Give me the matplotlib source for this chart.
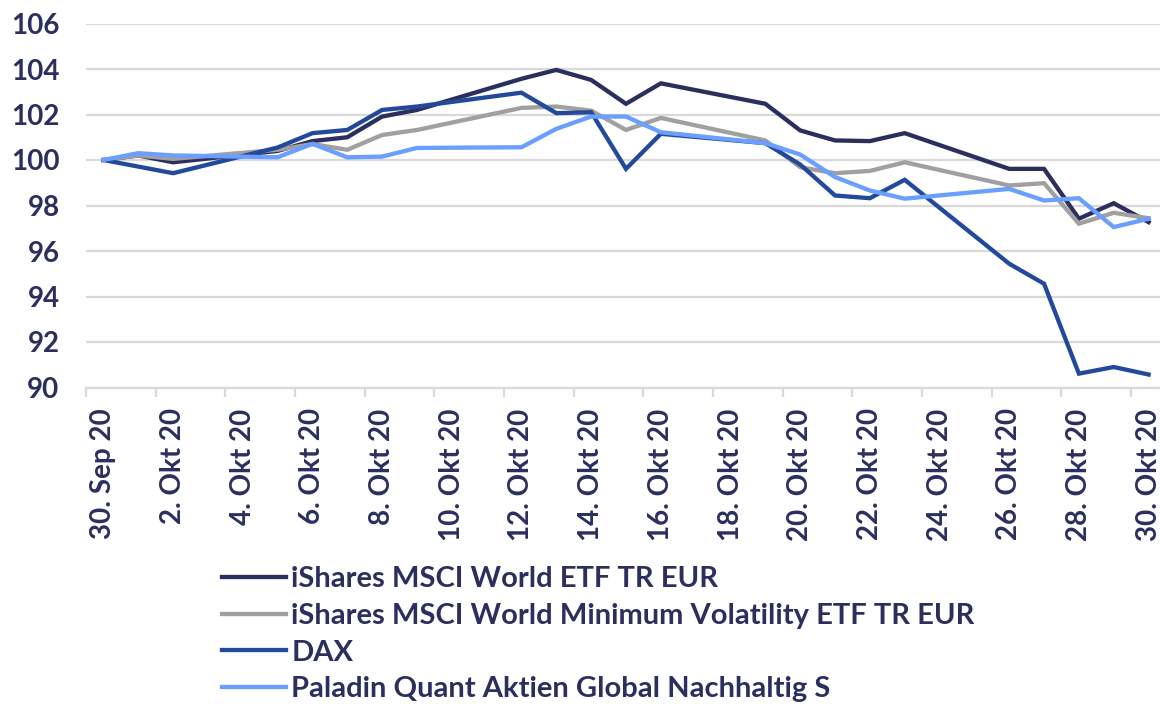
import numpy as np
import pandas as pd
import matplotlib
matplotlib.use("Agg")
import matplotlib.pyplot as plt
import matplotlib.dates as mdates

# Handelstage Oktober 2020 (Index 30.09.2020 = 100)
dates = pd.to_datetime([
    "2020-09-30", "2020-10-01", "2020-10-02", "2020-10-05", "2020-10-06",
    "2020-10-07", "2020-10-08", "2020-10-09", "2020-10-12", "2020-10-13",
    "2020-10-14", "2020-10-15", "2020-10-16", "2020-10-19", "2020-10-20",
    "2020-10-21", "2020-10-22", "2020-10-23", "2020-10-26", "2020-10-27",
    "2020-10-28", "2020-10-29", "2020-10-30"])

world = [100, 100.2, 99.9, 100.4, 100.83, 101.0, 101.91, 102.2, 103.57, 103.96,
         103.52, 102.47, 103.37, 102.47, 101.3, 100.86, 100.83, 101.18, 99.61,
         99.61, 97.42, 98.1, 97.27]
minvol = [100, 100.2, 100.05, 100.45, 100.7, 100.45, 101.1, 101.32, 102.29, 102.35,
          102.17, 101.32, 101.85, 100.86, 99.68, 99.42, 99.52, 99.9, 98.88,
          98.98, 97.2, 97.68, 97.44]
dax = [100, 99.71, 99.42, 100.55, 101.18, 101.32, 102.2, 102.35, 102.96, 102.06,
       102.1, 99.61, 101.15, 100.74, 99.8, 98.44, 98.32, 99.13, 95.44,
       94.56, 90.61, 90.9, 90.57]
paladin = [100, 100.3, 100.2, 100.12, 100.71, 100.12, 100.15, 100.53, 100.56, 101.37,
           101.91, 101.91, 101.22, 100.74, 100.24, 99.25, 98.66, 98.3, 98.73,
           98.22, 98.32, 97.05, 97.42]

labels = ["iShares MSCI World ETF TR EUR",
          "iShares MSCI World Minimum Volatility ETF TR EUR",
          "DAX",
          "Paladin Quant Aktien Global Nachhaltig S"]
colors = ["#2B2F5E", "#A0A0A0", "#234A9A", "#6A9EFF"]

# Achsenbeschriftung alle 2 Tage
tick_dates = pd.date_range("2020-09-30", "2020-10-30", freq="2D")
tick_labels = ["30. Sep 20", "2. Okt 20", "4. Okt 20", "6. Okt 20", "8. Okt 20",
               "10. Okt 20", "12. Okt 20", "14. Okt 20", "16. Okt 20", "18. Okt 20",
               "20. Okt 20", "22. Okt 20", "24. Okt 20", "26. Okt 20", "28. Okt 20",
               "30. Okt 20"]

text_col = "#2B2F5E"
grid_col = "#D9D9D9"
plt.rcParams['font.family'] = ['Lato', 'DejaVu Sans']
plt.rcParams['font.weight'] = 'bold'

fig = plt.figure(figsize=(11.6, 7.04), dpi=100)
ax = fig.add_axes([86 / 1160, 1 - 387.5 / 704, 1080 / 1160, 364 / 704])

for y, c, l in zip([world, minvol, dax, paladin], colors, labels):
    ax.plot(dates, y, color=c, lw=3.1, label=l, solid_joinstyle='miter')

half = pd.Timedelta(hours=12)
ax.set_xlim(pd.Timestamp("2020-09-30") - half, pd.Timestamp("2020-10-30") + half)
ax.set_ylim(90, 106)
ax.set_yticks(np.arange(90, 107, 2))

ax.set_xticks(tick_dates)
ax.set_xticklabels(tick_labels, rotation=90, va='top', ha='center')
ax.set_xticks(tick_dates - half, minor=True)

ax.grid(axis='y', color=grid_col, lw=1.6)
ax.set_axisbelow(True)
for s in ["top", "right", "left"]:
    ax.spines[s].set_visible(False)
ax.spines["bottom"].set_color(grid_col)
ax.spines["bottom"].set_linewidth(1.6)

ax.tick_params(axis='x', which='major', length=0, pad=15, labelsize=20, labelcolor=text_col)
ax.tick_params(axis='x', which='minor', length=6.5, width=1.6, color=grid_col, direction='out')
ax.tick_params(axis='y', length=0, pad=19, labelsize=20, labelcolor=text_col)

leg = fig.legend(loc='upper left', bbox_to_anchor=(222 / 1160, 1 - 566 / 704),
                 frameon=False, fontsize=21, handlelength=2.2, handletextpad=0.17,
                 labelspacing=0.37, borderpad=0, borderaxespad=0)
for t in leg.get_texts():
    t.set_color(text_col)

plt.savefig("out.png", dpi=100)
